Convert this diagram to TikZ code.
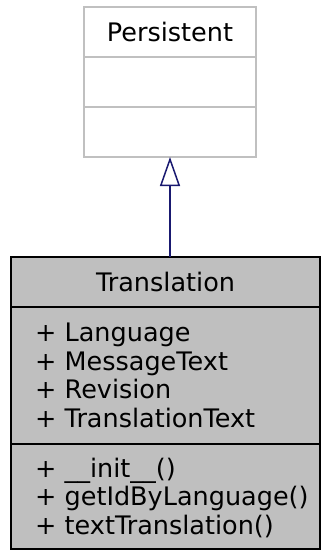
\documentclass[tikz,border=0pt]{standalone}
\usepackage{fontspec}
\setmainfont{DejaVu Sans}
\usetikzlibrary{positioning,arrows.meta}

\definecolor{edgeblue}{HTML}{191970}
\definecolor{boxgray}{HTML}{BFBFBF}
\definecolor{linegray}{HTML}{C0C0C0}

\tikzset{
  part/.style={rectangle, draw, line width=1.5pt, inner sep=0pt, outer sep=0pt,
    font=\fontsize{25.5}{28.5}\selectfont},
  base/.style={part, draw=linegray, fill=white, minimum width=172pt},
  cur/.style={part, draw=black, fill=boxgray, minimum width=309pt},
  members/.style={align=left, inner sep=0pt, font=\fontsize{25.5}{28.5}\selectfont},
  inherit/.style={edgeblue, line width=1.5pt, -{Triangle[open, length=29pt, width=20pt]}}
}

\begin{document}
\begin{tikzpicture}[x=1pt, y=-1pt]
    \useasboundingbox (0,0) rectangle (322,550);

    % Persistent
    \node[base, minimum height=50pt] (pTitle) at (170,32) {Persistent};
    \node[base, minimum height=50pt, below=0pt of pTitle] (pAttr) {};
    \node[base, minimum height=50pt, below=0pt of pAttr] (pOps) {};

    % Translation
    \node[cur, minimum height=50pt] (tTitle) at (165.5,282) {Translation};
    \node[cur, minimum height=137pt, below=0pt of tTitle] (tAttr) {};
    \node[cur, minimum height=105pt, below=0pt of tAttr] (tOps) {};
    \node[members, right=24pt of tAttr.west] (tAttrText)
        {+ Language\\+ MessageText\\+ Revision\\+ TranslationText};
    \node[members, right=24pt of tOps.west, yshift=-1pt] (tOpsText)
        {+ \_\_init\_\_()\\+ getIdByLanguage()\\+ textTranslation()};

    % 継承
    \draw[inherit] (tTitle.north -| pOps.south) -- (pOps.south);

\end{tikzpicture}
\end{document}
